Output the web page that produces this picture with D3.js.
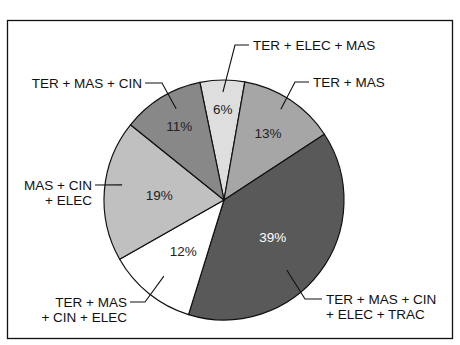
<!DOCTYPE html>
<html>
<head>
<meta charset="utf-8">
<script src="https://cdn.jsdelivr.net/npm/d3@7"></script>
<style>
  body { margin: 0; background: #fff; }
  text { font-family: "Liberation Sans", Arial, sans-serif; }
</style>
</head>
<body>
<svg id="chart" width="460" height="345"></svg>
<script>
// slice data, clockwise from the small top slice
const labels = [
  ["TER + ELEC + MAS"],
  ["TER + MAS"],
  ["TER + MAS + CIN", "+ ELEC + TRAC"],
  ["TER + MAS", "+ CIN + ELEC"],
  ["MAS + CIN", "+ ELEC"],
  ["TER + MAS + CIN"]
]
const values = [6, 13, 39, 12, 19, 11]
const fills = ["#dedede", "#a6a6a6", "#595959", "#ffffff", "#c0c0c0", "#888888"]

// layout bits (not data)
const pctRadius = [91, 80, 61, 65, 65, 86]
// callout: inner point radius, elbow x/y, text x, anchor
const callouts = [
  {r: 108, ex: 235, ey: 45, tx: 253, anchor: "start"},
  {r: 107, ex: 295, ey: 82, tx: 313, anchor: "start"},
  {r: 94, ex: 305, ey: 299, tx: 326, anchor: "start"},
  {r: 97, ex: 145, ey: 302, tx: 127, anchor: "end"},
  {r: 103, ex: 95, ey: 185, tx: 92, anchor: "end"},
  {r: 103, ex: 162, ey: 83, tx: 142, anchor: "end"}
]
const calloutAngle = [-0.01, 0.56, 2.41, 3.81, 4.86, 5.8]

const svg = d3.select("#chart")
const cx = 224, cy = 200, radius = 120

svg.append("rect")
  .attr("x", 7.5).attr("y", 20.5)
  .attr("width", 445).attr("height", 318)
  .attr("fill", "none").attr("stroke", "#111").attr("stroke-width", 1.3)

const pie = d3.pie().sort(null)
  .startAngle(-11.6 * Math.PI / 180)
  .endAngle(2 * Math.PI - 11.6 * Math.PI / 180)
const arcs = pie(values)
const arc = d3.arc().innerRadius(0).outerRadius(radius)

const g = svg.append("g").attr("transform", `translate(${cx},${cy})`)

g.selectAll("path")
  .data(arcs)
  .join("path")
    .attr("d", arc)
    .attr("fill", (d, i) => fills[i])
    .attr("stroke", "#111")
    .attr("stroke-width", 1.2)
    .attr("stroke-linejoin", "round")

// percentage labels
g.selectAll("text.pct")
  .data(arcs)
  .join("text")
    .attr("class", "pct")
    .attr("transform", (d, i) => {
      const c = d3.arc().innerRadius(pctRadius[i]).outerRadius(pctRadius[i]).centroid(d)
      return `translate(${c})`
    })
    .attr("text-anchor", "middle")
    .attr("dy", "0.36em")
    .attr("font-size", 13.5)
    .attr("fill", (d, i) => i == 2 ? "#fff" : "#222")
    .text(d => d.data + "%")

// callout lines + labels
const out = svg.append("g")
arcs.forEach((d, i) => {
  const c = callouts[i]
  const a = calloutAngle[i]
  const px = cx + c.r * Math.sin(a), py = cy - c.r * Math.cos(a)
  const endX = c.anchor == "start" ? c.tx - 4 : c.tx + 3
  const pts = [[px, py], [c.ex, c.ey], [endX, c.ey]]
  out.append("path")
    .attr("d", d3.line()(pts))
    .attr("fill", "none")
    .attr("stroke", "#111")
    .attr("stroke-width", 1.1)
  const t = out.append("text")
    .attr("x", c.tx)
    .attr("y", c.ey)
    .attr("text-anchor", c.anchor)
    .attr("font-size", 13.5)
    .attr("fill", "#111")
  labels[i].forEach((line, j) => {
    t.append("tspan")
      .attr("x", c.tx)
      .attr("dy", j == 0 ? "0.36em" : "15.5")
      .text(line)
  })
})
</script>
</body>
</html>
